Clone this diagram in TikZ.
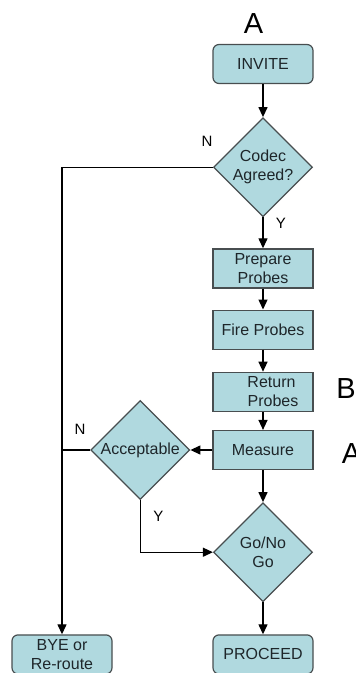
\documentclass[tikz,border=0pt]{standalone}
\usepackage{fontspec}
\setmainfont{Liberation Sans}
\usetikzlibrary{arrows.meta,positioning,shapes.geometric}

\definecolor{boxfill}{RGB}{176,217,223}
\definecolor{boxline}{RGB}{72,78,80}
\definecolor{boxtext}{RGB}{30,38,42}

\begin{document}
\begin{tikzpicture}[x=1pt,y=1pt,>={Triangle[length=10pt,width=9pt]},
                    line width=1.3pt,
                    every node/.style={font=\fontsize{16}{19}\selectfont,text=boxtext},
                    process/.style={rectangle,draw=boxline,fill=boxfill,line width=1.2pt,
                                    minimum width=100pt,minimum height=39pt,inner sep=0pt,align=center},
                    terminal/.style={process,rounded corners=6pt},
                    decision/.style={diamond,draw=boxline,fill=boxfill,line width=1.2pt,
                                     minimum width=99pt,minimum height=99pt,inner sep=0pt,align=center},
                    branch/.style={font=\fontsize{15}{17}\selectfont,text=black},
                    marker/.style={font=\fontsize{29}{32}\selectfont,text=black,anchor=base}]
  \useasboundingbox (0,0) rectangle (356,-673);

  % main column
  \node[terminal] (invite) at (263,-64) {INVITE};
  \node[decision] (codec) [below=33pt of invite] {Codec\\Agreed?};
  \node[process] (prepare) [below=31pt of codec] {Prepare\\Probes};
  \node[process] (fire) [below=21pt of prepare] {Fire Probes};
  \node[process] (return) [below=22pt of fire] {\hspace*{17pt}Return\\\hspace*{20pt}Probes};
  \node[process] (measure) [below=18pt of return] {Measure};
  \node[decision] (go) [below=32pt of measure] {Go/No\\Go};
  \node[terminal] (proceed) [below=32pt of go] {PROCEED};

  % left side
  \node[decision] (accept) [left=22pt of measure] {Acceptable};
  \node[terminal,anchor=north] (bye) at ([xshift=-201pt]proceed.north) {BYE or\\Re-route};
  \coordinate (join) at (accept -| bye);

  % markers
  \node[marker] (ta) at (253.5,-33) {A};
  \node[marker] (tb) at (346,-398) {B};
  \node[marker] (tc) at (351.5,-463) {A};

  % connectors
  \draw[->] (invite) -- (codec);
  \draw[->] (codec) -- node[branch,right=9pt,pos=0.2] {Y} (prepare);
  \draw[->] (prepare) -- (fire);
  \draw[->] (fire) -- (return);
  \draw[->] (return) -- (measure);
  \draw[->] (measure) -- (go);
  \draw[->] (go) -- (proceed);
  \draw[->] (measure) -- (accept);
  \draw[->] (codec) -| (bye);
  \draw (accept) -- (join);
  \draw[->] (accept) |- node[branch,pos=0.16,right=9pt] {Y} (go);

  % branch labels
  \node[branch] (ncodec) at (207,-141) {N};
  \node[branch] (naccept) at (80,-429) {N};
\end{tikzpicture}
\end{document}
